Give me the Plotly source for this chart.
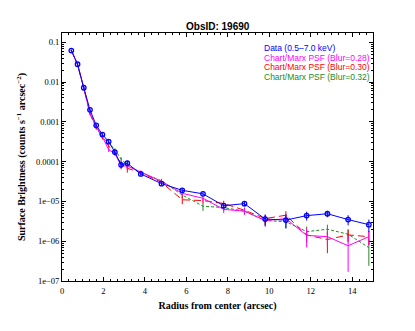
import plotly.graph_objects as go

# radial bins (arcsec)
radius = [0.45, 0.75, 1.05, 1.35, 1.65, 1.95, 2.25, 2.55, 2.85, 3.15,
          3.8, 4.8, 5.8, 6.8, 7.8, 8.8, 9.8, 10.8, 11.8, 12.8, 13.8, 14.8]

# observed surface brightness, 0.5-7.0 keV
data_sb = [0.062, 0.028, 0.0072, 0.0020, 0.00082, 0.00048, 0.00032, 0.000174, 8.3e-5, 9.1e-5,
           4.9e-5, 2.8e-5, 1.9e-5, 1.55e-5, 7.8e-6, 8.8e-6, 3.6e-6, 3.4e-6, 4.4e-6, 4.9e-6, 3.5e-6, 2.6e-6]
data_err = [0.003, 0.0015, 0.0004, 0.00015, 6e-5, 4e-5, 3e-5, 1.8e-5, 1.5e-5, 1.4e-5,
            5e-6, 3e-6, 2e-6, 1.5e-6, 1.2e-6, 1.3e-6, 1.1e-6, 1.3e-6, 1.1e-6, 0.9e-6, 1.0e-6, 0.9e-6]

# ChaRT/MARX PSF simulations
psf28 = [0.063, 0.028, 0.0072, 0.0016, 0.00075, 0.00042, 0.00020, 0.00016, 7.9e-5, 7.7e-5,
         5.5e-5, 3.2e-5, 1.6e-5, 1.2e-5, 6.3e-6, 5.7e-6, 3.3e-6, 3.7e-6, 1.4e-6, 1.3e-6, 7.7e-7, 1.3e-6]
psf28_err = [0.002, 0.001, 0.0003, 0.00012, 5e-5, 3e-5, 2.5e-5, 1.8e-5, 1.5e-5, 1.5e-5,
             5e-6, 4e-6, 2.5e-6, 2e-6, 1.2e-6, 1.1e-6, 1.0e-6, 1.0e-6, 0.7e-6, 0.5e-6, 0.6e-6, 0.5e-6]

psf30 = [0.063, 0.027, 0.0071, 0.0016, 0.00069, 0.00039, 0.00025, 0.00016, 9.0e-5, 6.8e-5,
         5.3e-5, 3.0e-5, 1.1e-5, 1.05e-5, 8.9e-6, 6.0e-6, 3.7e-6, 4.5e-6, 1.44e-6, 1.1e-6, 1.44e-6, 1.3e-6]
psf30_err = [0.002, 0.001, 0.0003, 0.00012, 5e-5, 3e-5, 2.5e-5, 1.8e-5, 1.5e-5, 1.5e-5,
             5e-6, 4e-6, 2.5e-6, 1.5e-6, 1.5e-6, 1.0e-6, 0.9e-6, 1.2e-6, 0.5e-6, 0.6e-6, 0.5e-6, 0.5e-6]

psf32 = [0.063, 0.027, 0.0071, 0.0017, 0.00072, 0.00040, 0.00030, 0.00020, 0.000115, 8.3e-5,
         5.3e-5, 3.3e-5, 1.45e-5, 7.6e-6, 7.0e-6, 5.7e-6, 3.3e-6, 3.1e-6, 1.74e-6, 2.0e-6, 1.5e-6, 6.9e-7]
psf32_err = [0.002, 0.001, 0.0003, 0.00012, 5e-5, 3e-5, 2.5e-5, 1.8e-5, 1.5e-5, 1.5e-5,
             5e-6, 4e-6, 2.5e-6, 1.8e-6, 1.2e-6, 1.0e-6, 0.9e-6, 1.0e-6, 0.6e-6, 0.6e-6, 0.5e-6, 0.45e-6]

ytick_vals = [1e-7, 1e-6, 1e-5, 1e-4, 1e-3, 1e-2, 1e-1]
ytick_text = ["1e\u221207", "1e\u221206", "1e\u221205", "0.0001", "0.001", "0.01", "0.1"]

labels = ["Data (0.5\u20137.0 keV)", "Chart/Marx PSF (Blur=0.28)",
          "Chart/Marx PSF (Blur=0.30)", "Chart/Marx PSF (Blur=0.32)"]
colors = ["#0000ff", "#ff00ff", "#ff0000", "#228b22"]

# the page body has an 8px margin, so the figure is made smaller and shifted
W, H = 407, 323

fig = go.Figure()

# models first so the data sit on top
fig.add_trace(go.Scatter(x=radius, y=psf32, mode="lines",
                         line=dict(color=colors[3], width=1, dash="3px,2px"),
                         error_y=dict(type="data", array=psf32_err, color=colors[3], width=0, thickness=1)))
fig.add_trace(go.Scatter(x=radius, y=psf30, mode="lines",
                         line=dict(color=colors[2], width=1, dash="7px,4px"),
                         error_y=dict(type="data", array=psf30_err, color=colors[2], width=0, thickness=1)))
fig.add_trace(go.Scatter(x=radius, y=psf28, mode="lines",
                         line=dict(color=colors[1], width=1),
                         error_y=dict(type="data", array=psf28_err, color=colors[1], width=0, thickness=1)))
fig.add_trace(go.Scatter(x=radius, y=data_sb, mode="lines+markers",
                         line=dict(color=colors[0], width=1),
                         marker=dict(symbol="circle-open", size=4.5, color=colors[0], line=dict(width=1.3)),
                         error_y=dict(type="data", array=data_err, color=colors[0], width=0, thickness=1)))

# text-only legend, top right inside the frame (paper coords = plot area)
for i, (lab, col) in enumerate(zip(labels, colors)):
    fig.add_annotation(x=0.643, y=0.9415 - 0.0403 * i, xref="paper", yref="paper",
                       text=lab, showarrow=False, font=dict(family="Liberation Sans", size=8.5, color=col),
                       xanchor="left", yanchor="middle")

# title as an annotation just above the frame
fig.add_annotation(x=0.5, y=1.0282, xref="paper", yref="paper", text="<b>ObsID: 19690</b>",
                   showarrow=False, xanchor="center", yanchor="middle",
                   font=dict(family="Liberation Sans", size=10, color="black"))

fig.update_layout(
    width=W, height=H,
    margin=dict(l=54, r=42, t=25, b=50, autoexpand=False),
    paper_bgcolor="white", plot_bgcolor="white",
    showlegend=False,
    font=dict(family="Liberation Serif", color="black"),
)

fig.update_xaxes(
    range=[0, 15], dtick=2, tick0=0, ticklabelstandoff=2,
    ticks="inside", ticklen=4, tickcolor="black", tickwidth=1,
    minor=dict(dtick=1 / 3, tick0=0, ticks="inside", ticklen=2, tickcolor="black"),
    showline=True, linecolor="black", linewidth=1, mirror="ticks", showgrid=False, zeroline=False,
    tickfont=dict(family="Liberation Serif", size=8.5),
    title=dict(text="<b>Radius from center (arcsec)</b>", font=dict(family="Liberation Serif", size=10), standoff=6),
)
fig.update_yaxes(
    type="log", range=[-7, -0.767],
    tickvals=ytick_vals, ticktext=ytick_text,
    ticks="inside", ticklen=4, tickcolor="black", tickwidth=1,
    minor=dict(dtick="D1", ticks="inside", ticklen=2, tickcolor="black"),
    showline=True, linecolor="black", linewidth=1, mirror="ticks", showgrid=False, zeroline=False,
    tickfont=dict(family="Liberation Serif", size=8.5),
    title=dict(text="<b>Surface Brightness (counts s<sup>\u22121</sup> arcsec<sup>\u22122</sup>)</b>",
               font=dict(family="Liberation Serif", size=10), standoff=8),
)

fig.write_html("out.html")
